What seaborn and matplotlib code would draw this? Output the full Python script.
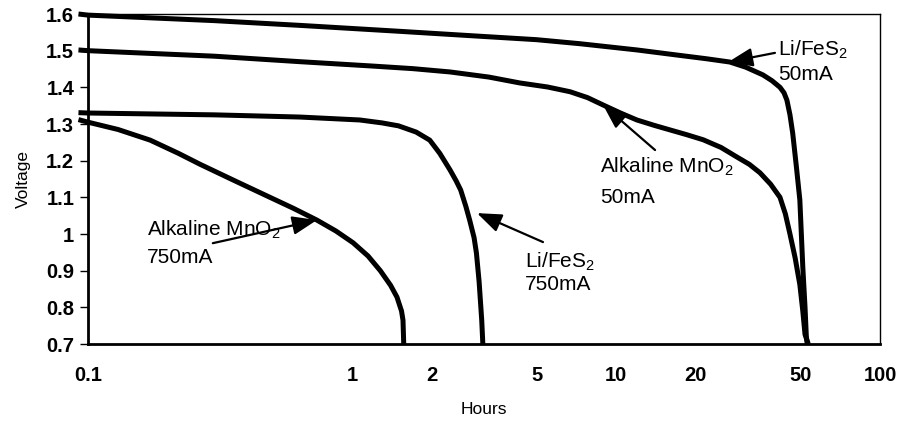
import numpy as np
import pandas as pd
import matplotlib
matplotlib.use("Agg")
import matplotlib.pyplot as plt
from matplotlib.ticker import NullLocator
import seaborn as sns

# discharge curves (hours, volts)
li50_hours = [0.092, 0.1, 0.3, 0.635, 1.5, 2.8, 5.0, 7.3, 12, 17.5, 22, 27, 31, 36, 39, 41.8, 43.3, 44.4,
              45.6, 46.7, 48.2, 49.7, 51, 52.0, 52.6, 53.0]
li50_volts = [1.600, 1.597, 1.582, 1.569, 1.553, 1.541, 1.530, 1.519, 1.502, 1.487, 1.478, 1.469, 1.455,
              1.434, 1.418, 1.400, 1.385, 1.365, 1.325, 1.275, 1.185, 1.093, 0.910, 0.800, 0.720, 0.700]

alk50_hours = [0.092, 0.1, 0.3, 0.635, 1.2, 1.7, 2.35, 3.3, 4.32, 5.5, 6.7, 7.8, 8.93, 10.4, 12.0, 14.0, 16.0,
               18.5, 21.4, 25, 28.7, 32, 35.1, 38.5, 41.8, 43.8, 45.6, 47.7, 49.7, 51, 52, 53.5]
alk50_volts = [1.502, 1.500, 1.485, 1.470, 1.458, 1.451, 1.442, 1.428, 1.412, 1.401, 1.388, 1.372, 1.352,
               1.330, 1.311, 1.296, 1.284, 1.271, 1.257, 1.236, 1.210, 1.190, 1.167, 1.136, 1.100, 1.055,
               1.000, 0.935, 0.862, 0.790, 0.726, 0.700]

li750_hours = [0.092, 0.1, 0.3, 0.635, 1.07, 1.3, 1.5, 1.75, 1.97, 2.15, 2.35, 2.48, 2.58, 2.7, 2.79, 2.9,
               2.96, 3.03, 3.1, 3.13]
li750_volts = [1.331, 1.330, 1.325, 1.319, 1.311, 1.303, 1.295, 1.278, 1.256, 1.220, 1.175, 1.145, 1.120,
               1.075, 1.038, 0.990, 0.948, 0.870, 0.765, 0.700]

alk750_hours = [0.092, 0.1, 0.13, 0.172, 0.22, 0.266, 0.36, 0.489, 0.6, 0.736, 0.87, 1.01, 1.15, 1.28, 1.4,
                1.48, 1.54, 1.56, 1.57]
alk750_volts = [1.312, 1.305, 1.285, 1.256, 1.220, 1.190, 1.145, 1.100, 1.070, 1.038, 1.008, 0.976, 0.940,
                0.900, 0.860, 0.828, 0.790, 0.765, 0.700]

x_ticks = [0.1, 1, 2, 5, 10, 20, 50, 100]
x_labels = ["0.1", "1", "2", "5", "10", "20", "50", "100"]
y_ticks = [0.7, 0.8, 0.9, 1.0, 1.1, 1.2, 1.3, 1.4, 1.5, 1.6]
y_labels = ["0.7", "0.8", "0.9", "1", "1.1", "1.2", "1.3", "1.4", "1.5", "1.6"]

# label text, arrow tip, arrow tail, text anchor (hours, volts), second line volts
notes = [
    ("Li/FeS$_2$", "50mA", (26.6, 1.469), (40.0, 1.494), (41.1, 1.502), 1.434),
    ("Alkaline MnO$_2$", "50mA", (8.93, 1.352), (14.06, 1.229), (8.69, 1.183), 1.100),
    ("Alkaline MnO$_2$", "750mA", (0.736, 1.038), (0.297, 0.975), (0.167, 1.011), 0.935),
    ("Li/FeS$_2$", "750mA", (2.975, 1.057), (5.29, 0.978), (4.52, 0.924), 0.861),
]

frames = []
for name, h, v in [("li50", li50_hours, li50_volts), ("alk50", alk50_hours, alk50_volts),
                   ("li750", li750_hours, li750_volts), ("alk750", alk750_hours, alk750_volts)]:
    frames.append(pd.DataFrame({"hours": h, "voltage": v, "series": name}))
df = pd.concat(frames, ignore_index=True)

sns.set_style("white")
plt.rcParams["font.family"] = ["Liberation Sans", "DejaVu Sans"]
plt.rcParams["mathtext.fontset"] = "custom"
plt.rcParams["mathtext.rm"] = "Liberation Sans"
plt.rcParams["mathtext.it"] = "Liberation Sans:italic"
plt.rcParams["mathtext.bf"] = "Liberation Sans:bold"
plt.rcParams["mathtext.default"] = "regular"
for key in ["text.color", "axes.labelcolor", "xtick.color", "ytick.color"]:
    plt.rcParams[key] = "black"

fig = plt.figure(figsize=(9.14, 4.22), dpi=100)
ax = fig.add_axes([0.0963, 0.1848, 0.8665, 0.782])

sns.lineplot(data=df, x="hours", y="voltage", units="series", estimator=None, sort=False,
             color="black", lw=3.6, ax=ax, legend=False, clip_on=False,
             solid_capstyle="butt", solid_joinstyle="round")

ax.set_xscale("log")
ax.set_xlim(0.1, 100)
ax.set_ylim(0.7, 1.6)
ax.set_xticks(x_ticks)
ax.set_xticklabels(x_labels)
ax.xaxis.set_minor_locator(NullLocator())
ax.set_yticks(y_ticks)
ax.set_yticklabels(y_labels)

ax.tick_params(axis="x", direction="in", length=4, width=1, pad=16, labelsize=14.5)
ax.tick_params(axis="y", direction="out", length=6, width=1, pad=4, labelsize=14.5, left=True)
for lab in ax.get_xticklabels() + ax.get_yticklabels():
    lab.set_fontweight("bold")

for side in ["left", "bottom"]:
    ax.spines[side].set_linewidth(2)
    ax.spines[side].set_color("black")
for side in ["top", "right"]:
    ax.spines[side].set_linewidth(1)
    ax.spines[side].set_color("black")

ax.set_xlabel("Hours", fontsize=12.5, labelpad=12)
ax.set_ylabel("Voltage", fontsize=12.5, labelpad=11)

for line1, line2, tip, tail, txt, v2 in notes:
    ax.annotate("", xy=tip, xytext=tail,
                arrowprops=dict(arrowstyle="-|>,head_length=1.0,head_width=0.38",
                                mutation_scale=15, color="black", lw=1.6,
                                shrinkA=0, shrinkB=0))
    ax.text(txt[0], txt[1], line1, fontsize=15, ha="left", va="center")
    ax.text(txt[0], v2, line2, fontsize=15, ha="left", va="center")

fig.savefig("out.png", dpi=100)
